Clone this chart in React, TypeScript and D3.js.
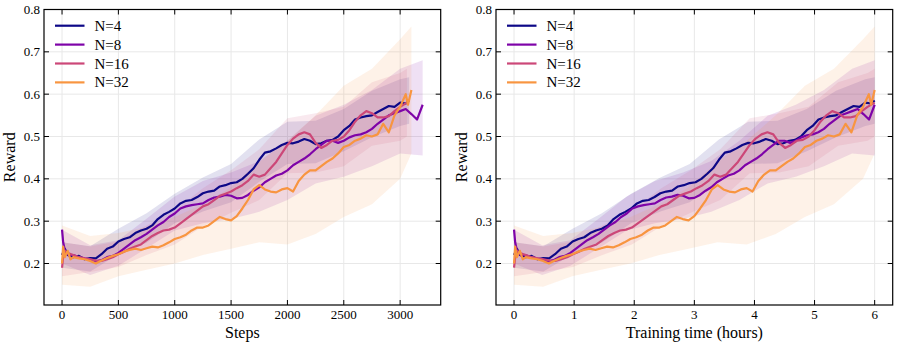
import React, { useEffect, useRef } from 'react';
import * as d3 from 'd3';

const seriesNames = ['N=4', 'N=8', 'N=16', 'N=32'];
const seriesColors = ['#0d0887', '#7e03a8', '#cc4778', '#f89540'];

// mean reward per run
const stepsN4 = [0, 25, 50, 100, 150, 200, 250, 300, 350, 400, 450, 500, 550, 600, 650, 700, 750, 800, 850, 900, 950, 1000, 1050, 1100, 1150, 1200, 1250, 1300, 1350, 1400, 1450, 1500, 1550, 1600, 1650, 1700, 1750, 1800, 1850, 1900, 1950, 2000, 2050, 2100, 2150, 2200, 2250, 2300, 2350, 2400, 2450, 2500, 2550, 2600, 2650, 2700, 2750, 2800, 2850, 2900, 2950, 3000, 3050, 3080];
const rewardN4 = [0.22, 0.235, 0.22, 0.215, 0.218, 0.21, 0.213, 0.212, 0.222, 0.235, 0.24, 0.252, 0.258, 0.262, 0.272, 0.278, 0.282, 0.29, 0.305, 0.315, 0.322, 0.33, 0.342, 0.348, 0.35, 0.357, 0.366, 0.37, 0.372, 0.382, 0.385, 0.39, 0.392, 0.40, 0.412, 0.425, 0.445, 0.462, 0.465, 0.472, 0.48, 0.485, 0.484, 0.488, 0.494, 0.49, 0.482, 0.484, 0.49, 0.492, 0.50, 0.515, 0.525, 0.54, 0.545, 0.548, 0.55, 0.558, 0.565, 0.572, 0.57, 0.58, 0.578, 0.585];

const stepsN8 = [0, 10, 30, 60, 100, 150, 200, 250, 300, 350, 400, 450, 500, 550, 600, 650, 700, 750, 800, 850, 900, 950, 1000, 1050, 1100, 1150, 1200, 1250, 1300, 1350, 1400, 1450, 1500, 1550, 1600, 1650, 1700, 1750, 1800, 1850, 1900, 1950, 2000, 2050, 2100, 2150, 2200, 2250, 2300, 2350, 2400, 2450, 2500, 2550, 2600, 2650, 2700, 2750, 2800, 2850, 2900, 2950, 3000, 3050, 3100, 3150, 3200];
const rewardN8 = [0.28, 0.25, 0.225, 0.22, 0.22, 0.215, 0.212, 0.21, 0.205, 0.208, 0.215, 0.218, 0.225, 0.235, 0.245, 0.255, 0.262, 0.27, 0.28, 0.29, 0.298, 0.31, 0.318, 0.33, 0.335, 0.338, 0.34, 0.342, 0.35, 0.356, 0.358, 0.362, 0.36, 0.354, 0.355, 0.362, 0.372, 0.38, 0.392, 0.40, 0.408, 0.412, 0.42, 0.432, 0.44, 0.448, 0.458, 0.47, 0.48, 0.49, 0.49, 0.485, 0.49, 0.498, 0.503, 0.505, 0.51, 0.518, 0.53, 0.54, 0.55, 0.555, 0.56, 0.565, 0.553, 0.54, 0.575];

const stepsN16 = [0, 10, 25, 50, 100, 150, 200, 250, 300, 350, 400, 450, 500, 550, 600, 650, 700, 750, 800, 850, 900, 950, 1000, 1050, 1100, 1150, 1200, 1250, 1300, 1350, 1400, 1450, 1500, 1550, 1600, 1650, 1700, 1750, 1800, 1850, 1900, 1950, 2000, 2050, 2100, 2150, 2200, 2250, 2300, 2350, 2400, 2450, 2500, 2550, 2600, 2650, 2700, 2750, 2800, 2850, 2900, 2950, 3000, 3060];
const rewardN16 = [0.19, 0.215, 0.23, 0.225, 0.22, 0.215, 0.212, 0.21, 0.207, 0.206, 0.21, 0.215, 0.222, 0.228, 0.235, 0.24, 0.245, 0.255, 0.265, 0.272, 0.278, 0.28, 0.285, 0.295, 0.305, 0.315, 0.325, 0.335, 0.34, 0.35, 0.36, 0.365, 0.37, 0.378, 0.385, 0.395, 0.41, 0.405, 0.41, 0.425, 0.44, 0.46, 0.48, 0.495, 0.505, 0.51, 0.505, 0.485, 0.473, 0.48, 0.49, 0.492, 0.50, 0.515, 0.535, 0.55, 0.56, 0.555, 0.545, 0.545, 0.548, 0.56, 0.57, 0.58];

const stepsN32 = [0, 10, 25, 50, 75, 100, 150, 200, 250, 300, 350, 400, 450, 500, 550, 600, 650, 700, 750, 800, 850, 900, 950, 1000, 1050, 1100, 1150, 1200, 1250, 1300, 1350, 1400, 1450, 1500, 1550, 1600, 1650, 1700, 1750, 1800, 1850, 1900, 1950, 2000, 2050, 2100, 2150, 2200, 2250, 2300, 2350, 2400, 2450, 2500, 2550, 2600, 2650, 2700, 2750, 2800, 2850, 2900, 2950, 3000, 3050, 3070, 3100];
const rewardN32 = [0.20, 0.24, 0.215, 0.23, 0.21, 0.215, 0.212, 0.21, 0.206, 0.20, 0.207, 0.213, 0.218, 0.222, 0.228, 0.232, 0.235, 0.232, 0.236, 0.24, 0.238, 0.243, 0.25, 0.258, 0.262, 0.268, 0.278, 0.285, 0.285, 0.29, 0.30, 0.31, 0.305, 0.302, 0.312, 0.33, 0.35, 0.375, 0.385, 0.375, 0.37, 0.368, 0.375, 0.378, 0.37, 0.395, 0.41, 0.42, 0.42, 0.43, 0.44, 0.448, 0.46, 0.475, 0.48, 0.49, 0.495, 0.503, 0.50, 0.505, 0.53, 0.51, 0.55, 0.57, 0.60, 0.575, 0.61];

// shaded spread (mean +/- std), read every 250 steps
const bandStepsN4 = [0, 250, 500, 750, 1000, 1250, 1500, 1750, 2000, 2250, 2500, 2750, 3000, 3080];
const bandLowN4 = [0.19, 0.181, 0.222, 0.249, 0.295, 0.323, 0.345, 0.393, 0.435, 0.437, 0.465, 0.498, 0.525, 0.53];
const bandHighN4 = [0.25, 0.241, 0.282, 0.319, 0.365, 0.403, 0.435, 0.493, 0.535, 0.537, 0.565, 0.608, 0.635, 0.64];

const bandStepsN8 = [0, 250, 500, 750, 1000, 1250, 1500, 1750, 2000, 2250, 2500, 2750, 3000, 3200];
const bandLowN8 = [0.20, 0.173, 0.195, 0.236, 0.278, 0.295, 0.305, 0.322, 0.35, 0.389, 0.405, 0.43, 0.46, 0.455];
const bandHighN8 = [0.28, 0.243, 0.255, 0.306, 0.358, 0.395, 0.415, 0.442, 0.49, 0.549, 0.575, 0.61, 0.66, 0.68];

const bandStepsN16 = [0, 250, 500, 750, 1000, 1250, 1500, 1750, 2000, 2250, 2500, 2750, 3000, 3060];
const bandLowN16 = [0.17, 0.18, 0.192, 0.22, 0.245, 0.288, 0.32, 0.35, 0.413, 0.415, 0.43, 0.478, 0.49, 0.50];
const bandHighN16 = [0.25, 0.24, 0.252, 0.29, 0.325, 0.378, 0.42, 0.47, 0.543, 0.555, 0.57, 0.628, 0.65, 0.66];

const bandStepsN32 = [0, 250, 500, 750, 1000, 1250, 1500, 1750, 2000, 2250, 2500, 2750, 3000, 3100];
const bandLowN32 = [0.15, 0.145, 0.17, 0.185, 0.2, 0.22, 0.235, 0.25, 0.245, 0.27, 0.31, 0.34, 0.40, 0.46];
const bandHighN32 = [0.29, 0.265, 0.272, 0.286, 0.31, 0.34, 0.38, 0.44, 0.49, 0.55, 0.62, 0.66, 0.73, 0.76];

// every run took the same wall-clock time
const trainingHours = 6;

const stepTicks = [0, 500, 1000, 1500, 2000, 2500, 3000];
const hourTicks = [0, 1, 2, 3, 4, 5, 6];
const rewardTicks = [0.2, 0.3, 0.4, 0.5, 0.6, 0.7, 0.8];

const runs = [
    { steps: stepsN4, reward: rewardN4, bandSteps: bandStepsN4, low: bandLowN4, high: bandHighN4 },
    { steps: stepsN8, reward: rewardN8, bandSteps: bandStepsN8, low: bandLowN8, high: bandHighN8 },
    { steps: stepsN16, reward: rewardN16, bandSteps: bandStepsN16, low: bandLowN16, high: bandHighN16 },
    { steps: stepsN32, reward: rewardN32, bandSteps: bandStepsN32, low: bandLowN32, high: bandHighN32 },
];

const serif = "'Liberation Serif', 'DejaVu Serif', 'Noto Serif', 'Times New Roman', Times, serif";

function label(sel, size) {
    return sel.style('font-family', serif).style('font-size', size + 'px').attr('fill', '#000');
}

function drawPanel(svg, opts) {
    var left = opts.left, right = opts.right, top = 9.5, bottom = 305;

    var x = d3.scaleLinear().domain(opts.domain).range([left, right]);
    var y = d3.scaleLinear().domain([0.102, 0.8]).range([bottom, top]);

    var g = svg.append('g');

    // grid
    g.append('g').selectAll('line').data(opts.ticks).enter().append('line')
        .attr('x1', d => x(d)).attr('x2', d => x(d))
        .attr('y1', top).attr('y2', bottom)
        .attr('stroke', '#e8e8e8').attr('stroke-width', 1);
    g.append('g').selectAll('line').data(rewardTicks).enter().append('line')
        .attr('x1', left).attr('x2', right)
        .attr('y1', d => y(d)).attr('y2', d => y(d))
        .attr('stroke', '#e8e8e8').attr('stroke-width', 1);

    var clip = 'clip-' + opts.id;
    svg.append('clipPath').attr('id', clip).append('rect')
        .attr('x', left).attr('y', top).attr('width', right - left).attr('height', bottom - top);

    var plot = g.append('g').attr('clip-path', 'url(#' + clip + ')');

    // bands
    runs.forEach((r, i) => {
        var pts = r.bandSteps.map((s, j) => ({ x: opts.toX(s, r), lo: r.low[j], hi: r.high[j] }));
        var area = d3.area()
            .x(d => x(d.x))
            .y0(d => y(d.lo))
            .y1(d => y(d.hi));
        plot.append('path')
            .attr('d', area(pts))
            .attr('fill', seriesColors[i])
            .attr('fill-opacity', 0.12);
    });

    // mean lines
    runs.forEach((r, i) => {
        var pts = r.steps.map((s, j) => ({ x: opts.toX(s, r), v: r.reward[j] }));
        var line = d3.line()
            .x(d => x(d.x))
            .y(d => y(d.v));
        plot.append('path')
            .attr('d', line(pts))
            .attr('fill', 'none')
            .attr('stroke', seriesColors[i])
            .attr('stroke-width', 2.2)
            .attr('stroke-linejoin', 'round');
    });

    // frame
    g.append('rect')
        .attr('x', left).attr('y', top)
        .attr('width', right - left).attr('height', bottom - top)
        .attr('fill', 'none').attr('stroke', '#000').attr('stroke-width', 1.2);

    // inward ticks on all sides
    var tl = 5;
    var tk = g.append('g').attr('stroke', '#000').attr('stroke-width', 1);
    opts.ticks.forEach(t => {
        tk.append('line').attr('x1', x(t)).attr('x2', x(t)).attr('y1', bottom).attr('y2', bottom - tl);
        tk.append('line').attr('x1', x(t)).attr('x2', x(t)).attr('y1', top).attr('y2', top + tl);
    });
    rewardTicks.forEach(t => {
        tk.append('line').attr('x1', left).attr('x2', left + tl).attr('y1', y(t)).attr('y2', y(t));
        tk.append('line').attr('x1', right).attr('x2', right - tl).attr('y1', y(t)).attr('y2', y(t));
    });

    // tick labels
    label(g.append('g').selectAll('text').data(opts.ticks).enter().append('text'), 13)
        .attr('x', d => x(d)).attr('y', bottom + 14)
        .attr('text-anchor', 'middle')
        .text(d => String(d));
    label(g.append('g').selectAll('text').data(rewardTicks).enter().append('text'), 13)
        .attr('x', left - 4).attr('y', d => y(d) + 4.5)
        .attr('text-anchor', 'end')
        .text(d => d.toFixed(1));

    // axis labels
    label(g.append('text'), 16)
        .attr('x', (left + right) / 2).attr('y', 338)
        .attr('text-anchor', 'middle')
        .text(opts.xLabel);
    label(g.append('text'), 16)
        .attr('transform', 'translate(' + (left - 29) + ',' + ((top + bottom) / 2) + ') rotate(-90)')
        .attr('text-anchor', 'middle')
        .text('Reward');

    // legend
    var lg = g.append('g');
    seriesNames.forEach((name, i) => {
        var ly = 25.7 + i * 18.9;
        lg.append('line')
            .attr('x1', left + 11).attr('x2', left + 40.5)
            .attr('y1', ly).attr('y2', ly)
            .attr('stroke', seriesColors[i]).attr('stroke-width', 2.2);
        label(lg.append('text'), 15)
            .attr('x', left + 50.5).attr('y', ly + 5)
            .text(name);
    });
}

function App() {
    const ref = useRef(null);

    useEffect(() => {
        var svg = d3.select(ref.current);
        svg.selectAll('*').remove();

        drawPanel(svg, {
            id: 'steps',
            left: 44, right: 440.7,
            domain: [-160, 3360],
            ticks: stepTicks,
            xLabel: 'Steps',
            toX: (s) => s,
        });

        drawPanel(svg, {
            id: 'hours',
            left: 496, right: 892.7,
            domain: [-0.3, 6.3],
            ticks: hourTicks,
            xLabel: 'Training time (hours)',
            toX: (s, r) => s / r.steps[r.steps.length - 1] * trainingHours,
        });
    }, []);

    return (
        <svg ref={ref} width={897} height={346}
            style={{ position: 'absolute', left: 0, top: 0, background: '#fff' }} />
    );
}

export default App;
